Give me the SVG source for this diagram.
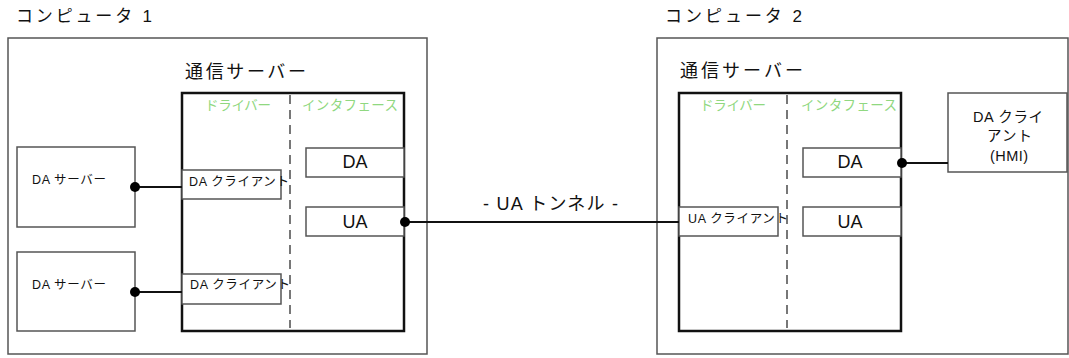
<svg xmlns="http://www.w3.org/2000/svg" width="1069" height="358" viewBox="0 0 1069 358">
<style>
text{font-family:"Liberation Sans","Noto Sans CJK JP",sans-serif;fill:#111}
.title{font-size:17px}
.srv{font-size:18px}
.grn{font-size:13.5px;fill:#90d880}
.small{font-size:12.5px}
.hmi{font-size:14.5px}
.big{font-size:18px}
.outer{fill:#fff;stroke:#555;stroke-width:1.5}
.server{fill:#fff;stroke:#111;stroke-width:2.5}
.box{fill:#fff;stroke:#555;stroke-width:1.5}
.dash{stroke:#777;stroke-width:2;stroke-dasharray:9 6;fill:none}
.wire{stroke:#111;stroke-width:2;fill:none}
.dot{fill:#000}
</style>
<rect width="1069" height="358" fill="#fff"/>
<g id="computer1">
<text class="title" x="16" y="22" textLength="136" lengthAdjust="spacing">コンピュータ 1</text>
<rect class="outer" x="8" y="38" width="419" height="316"/>
<text class="srv" x="185" y="78" textLength="121" lengthAdjust="spacing">通信サーバー</text>
</g>
<g id="server1">
<rect class="server" x="182" y="93" width="222" height="238"/>
<line class="dash" x1="290" y1="95" x2="290" y2="328"/>
<text class="grn" x="205" y="110" textLength="66" lengthAdjust="spacing">ドライバー</text>
<text class="grn" x="302" y="110" textLength="96" lengthAdjust="spacing">インタフェース</text>
</g>
<g id="da1">
<rect class="box" x="306" y="148" width="98" height="29"/>
<text class="big" x="355" y="168" text-anchor="middle">DA</text>
</g>
<g id="ua1">
<rect class="box" x="306" y="207" width="98" height="29"/>
<text class="big" x="355" y="228" text-anchor="middle">UA</text>
</g>
<g id="daserver1">
<rect class="box" x="17" y="147" width="118" height="80"/>
<text class="small" x="32" y="184" textLength="74" lengthAdjust="spacing">DA サーバー</text>
</g>
<g id="daserver2">
<rect class="box" x="17" y="252" width="118" height="79"/>
<text class="small" x="32" y="289" textLength="74" lengthAdjust="spacing">DA サーバー</text>
</g>
<g id="daclient1">
<rect class="box" x="182" y="170" width="99" height="29"/>
<text class="small" x="189" y="186" textLength="100" lengthAdjust="spacing">DA クライアント</text>
</g>
<g id="daclient2">
<rect class="box" x="182" y="274" width="99" height="30"/>
<text class="small" x="190" y="289" textLength="100" lengthAdjust="spacing">DA クライアント</text>
</g>
<g id="computer2">
<text class="title" x="665" y="22" textLength="137" lengthAdjust="spacing">コンピュータ 2</text>
<rect class="outer" x="657" y="38" width="411" height="316"/>
<text class="srv" x="680" y="77" textLength="123" lengthAdjust="spacing">通信サーバー</text>
</g>
<g id="server2">
<rect class="server" x="679" y="93" width="222" height="238"/>
<line class="dash" x1="787" y1="95" x2="787" y2="328"/>
<text class="grn" x="700" y="110" textLength="66" lengthAdjust="spacing">ドライバー</text>
<text class="grn" x="801" y="110" textLength="96" lengthAdjust="spacing">インタフェース</text>
</g>
<g id="da2">
<rect class="box" x="803" y="148" width="98" height="29"/>
<text class="big" x="850" y="168" text-anchor="middle">DA</text>
</g>
<g id="ua2">
<rect class="box" x="803" y="207" width="98" height="29"/>
<text class="big" x="850" y="228" text-anchor="middle">UA</text>
</g>
<g id="uaclient">
<rect class="box" x="679" y="207" width="99" height="29"/>
<text class="small" x="688" y="223" textLength="100" lengthAdjust="spacing">UA クライアント</text>
</g>
<g id="hmi">
<rect class="box" x="948" y="93" width="119" height="79"/>
<text class="hmi" x="973" y="122" textLength="70" lengthAdjust="spacing">DA クライ</text>
<text class="hmi" x="987" y="141" textLength="45" lengthAdjust="spacing">アント</text>
<text class="hmi" x="990" y="161" textLength="38" lengthAdjust="spacing">(HMI)</text>
</g>
<g id="connectors">
<line class="wire" x1="135" y1="187" x2="182" y2="187"/>
<circle class="dot" cx="135" cy="187" r="5"/>
<line class="wire" x1="135" y1="292" x2="182" y2="292"/>
<circle class="dot" cx="135" cy="292" r="5"/>
<line class="wire" x1="404" y1="222" x2="679" y2="222"/>
<circle class="dot" cx="405" cy="222" r="5"/>
<text class="big" x="483" y="210" textLength="135" lengthAdjust="spacing">- UA トンネル -</text>
<line class="wire" x1="901" y1="163" x2="948" y2="163"/>
<circle class="dot" cx="902" cy="163" r="5"/>
</g>
</svg>
